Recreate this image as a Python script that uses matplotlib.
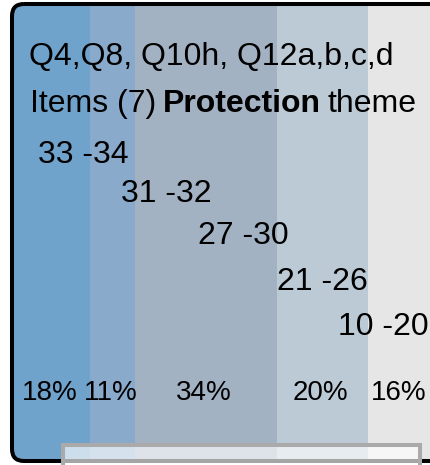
import matplotlib
matplotlib.use("Agg")
import matplotlib.pyplot as plt
import numpy as np
from matplotlib.patches import FancyBboxPatch, Rectangle

plt.rcParams["font.family"] = ["Liberation Sans", "DejaVu Sans"]

# score bands, left to right
percentages = [18, 11, 34, 20, 16]
band_widths = [76, 45, 142, 91, 66]   # relative widths as drawn
band_colors = ["#70a3cb", "#89aaca", "#a3b2c3", "#bccad5", "#e6e6e6"]
range_labels = ["33 -34", "31 -32", "27 -30", "21 -26", "10 -20"]
title_line1 = "Q4,Q8, Q10h, Q12a,b,c,d"
title_pre, title_bold, title_post = "Items (7)", "Protection", "theme"

W, H = 430, 465
fig = plt.figure(figsize=(W / 100, H / 100), dpi=100)

# band axes sits inside the rounded frame
box_left, box_top, box_bottom = 14, 6, 459
total = sum(band_widths)
ax = fig.add_axes([box_left / W, 1 - box_bottom / H, total / W, (box_bottom - box_top) / H])
ax.set_xlim(0, total)
ax.set_ylim(0, 1)
ax.axis("off")

lefts = np.concatenate([[0], np.cumsum(band_widths)[:-1]])
bars = ax.bar(lefts, 1, width=band_widths, align="edge", color=band_colors,
              edgecolor="none", zorder=1)
for left, w, p in zip(lefts, band_widths, percentages):
    ax.text(left + w / 2 - 2, (box_bottom - 400) / (box_bottom - box_top), f"{p}%",
            ha="center", va="baseline", fontsize=20, color="black")

# overlay in pixel units
ov = fig.add_axes([0, 0, 1, 1], zorder=5)
ov.set_xlim(0, W)
ov.set_ylim(H, 0)
ov.axis("off")
ov.patch.set_alpha(0)

frame = FancyBboxPatch((12, 4), 440, 457, boxstyle="round,pad=0,rounding_size=12",
                       fill=False, edgecolor="black", linewidth=2.9, zorder=3)
ov.add_patch(frame)

clip = FancyBboxPatch((12, 4), 440, 457, boxstyle="round,pad=0,rounding_size=12",
                      transform=ov.transData, visible=False)
ov.add_patch(clip)
for b in bars:
    b.set_clip_path(clip)

ov.add_patch(Rectangle((62.5, 444.5), 357.5, 40, facecolor=(1, 1, 1, 0.65),
                       edgecolor="#aaaaaa", linewidth=2.9, zorder=4))

fs = 23
ov.text(29, 65, title_line1, fontsize=fs, ha="left", va="baseline")
t1 = ov.text(30, 112, title_pre, fontsize=fs, ha="left", va="baseline")
fig.canvas.draw()
r = fig.canvas.get_renderer()
space = 0.2 * fs * 100 / 72
x1 = t1.get_window_extent(r).x1 + space
t2 = ov.text(x1, 112, title_bold, fontsize=fs, fontweight="bold", ha="left", va="baseline")
x2 = t2.get_window_extent(r).x1 + space
ov.text(x2, 112, title_post, fontsize=fs, ha="left", va="baseline")

range_x = [38, 121, 198, 277, 338]
range_y = [163, 202, 244, 290, 335]
for lab, x, y in zip(range_labels, range_x, range_y):
    ov.text(x, y, lab, fontsize=fs, ha="left", va="baseline")

fig.savefig("out.png", dpi=100)
